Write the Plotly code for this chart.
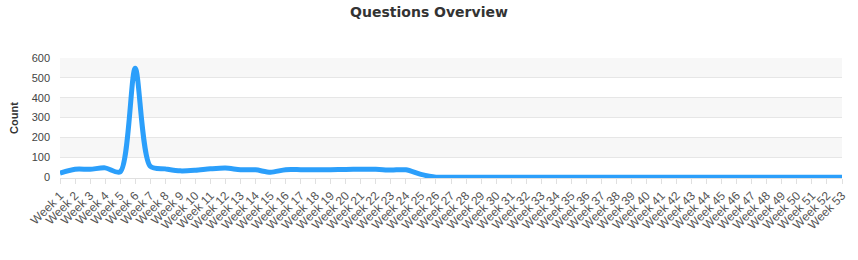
import plotly.graph_objects as go

weeks = [f"Week {i}" for i in range(1, 54)]
counts = [20, 40, 40, 47, 27, 548, 55, 42, 32, 35, 42, 46, 38, 37, 25, 38, 38, 37, 38, 39,
          40, 40, 36, 37, 14] + [0] * 28
y_ticks = [0, 100, 200, 300, 400, 500, 600]

fig = go.Figure()
fig.add_trace(go.Scatter(
    x=weeks, y=counts, mode="lines",
    line=dict(color="#2b9ffb", width=5, shape="spline", smoothing=0.8),
    hoverinfo="x+y",
))

# alternate grid bands
shapes = []
for i in range(len(y_ticks) - 1):
    if i % 2 == 1:
        shapes.append(dict(type="rect", xref="paper", yref="y", x0=0, x1=1,
                           y0=y_ticks[i], y1=y_ticks[i + 1],
                           fillcolor="#f7f7f7", line=dict(width=0), layer="below"))

fig.update_layout(
    width=858, height=260,
    margin=dict(l=60, r=9, t=58, b=82),
    paper_bgcolor="white", plot_bgcolor="white",
    showlegend=False,
    shapes=shapes,
    title=dict(text="<b>Questions Overview</b>", x=0.5, xanchor="center",
               y=1 - 12 / 260, yanchor="middle", yref="container",
               font=dict(family="DejaVu Sans", size=14, color="#333333")),
    font=dict(family="Liberation Sans, Arial", color="#333333"),
)
fig.update_xaxes(
    type="category", range=[0, len(weeks) - 1],
    tickangle=-45, tickfont=dict(size=12, color="#555555"),
    ticks="outside", ticklen=5, tickcolor="#e0e0e0", tickwidth=1,
    showline=True, linecolor="#e0e0e0", linewidth=1,
    showgrid=False, zeroline=False,
)
fig.update_yaxes(
    range=[-4, 600], tickvals=y_ticks,
    tickfont=dict(size=11, color="#444444"),
    ticklabelstandoff=9,
    showgrid=True, gridcolor="#e6e6e6", gridwidth=1,
    zeroline=False, showline=False,
    title=dict(text="<b>Count</b>", font=dict(size=11, color="#333333"), standoff=10),
)

fig.write_html("out.html")
